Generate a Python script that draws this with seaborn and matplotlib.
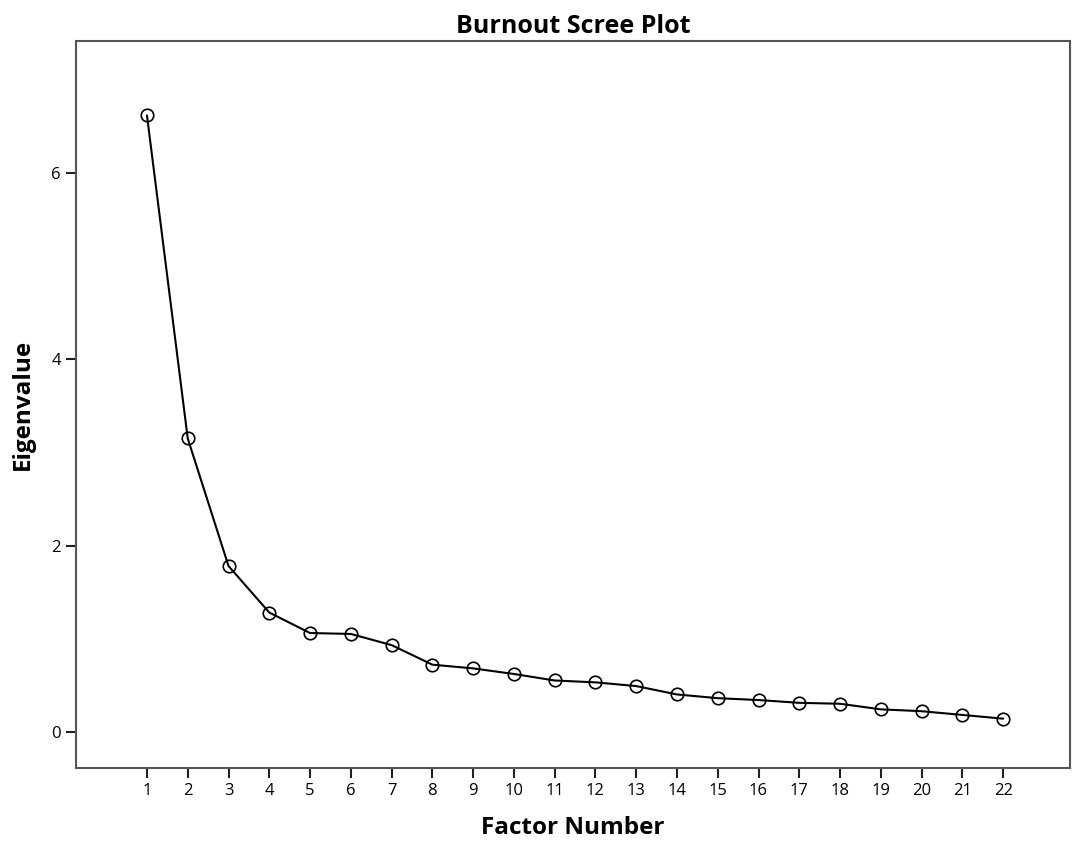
import numpy as np
import pandas as pd
import matplotlib
matplotlib.use("Agg")
import matplotlib.pyplot as plt
import seaborn as sns

# valores
factor_number = list(range(1, 23))
eigenvalue = [6.62, 3.15, 1.78, 1.28, 1.06, 1.05, 0.93, 0.72, 0.68, 0.62, 0.55,
              0.53, 0.49, 0.40, 0.36, 0.34, 0.31, 0.30, 0.24, 0.22, 0.18, 0.14]
y_ticks = [0, 2, 4, 6]

data = pd.DataFrame({"Factor Number": factor_number, "Eigenvalue": eigenvalue})

sns.set_style("white")
plt.rcParams["font.family"] = ["Open Sans", "DejaVu Sans"]
plt.rcParams["text.color"] = "black"
plt.rcParams["axes.labelcolor"] = "black"
plt.rcParams["xtick.color"] = "black"
plt.rcParams["ytick.color"] = "black"

fig = plt.figure(figsize=(10.77, 8.52), dpi=100)
ax = fig.add_axes([0.0706, 0.0986, 0.9229, 0.8533])

sns.lineplot(data=data, x="Factor Number", y="Eigenvalue", ax=ax,
             color="black", linewidth=1.5, marker="o", markersize=9,
             markerfacecolor="none", markeredgecolor="black", markeredgewidth=1.2)

ax.set_xlim(-0.74, 23.64)
ax.set_ylim(-0.39, 7.42)
ax.set_xticks(factor_number)
ax.set_yticks(y_ticks)
ax.tick_params(axis="both", direction="out", length=7, width=1.5, color="#222222",
               labelsize=12, labelcolor="black", bottom=True, left=True, pad=4)

for s in ax.spines.values():
    s.set_color("#555555")
    s.set_linewidth(1.5)

ax.set_title("Burnout Scree Plot", fontsize=18, fontweight="bold", pad=6, color="black")
ax.set_xlabel("Factor Number", fontsize=17.5, fontweight="bold", labelpad=12)
ax.set_ylabel("Eigenvalue", fontsize=17.5, fontweight="bold", labelpad=12)

fig.savefig("out.png", dpi=100)
